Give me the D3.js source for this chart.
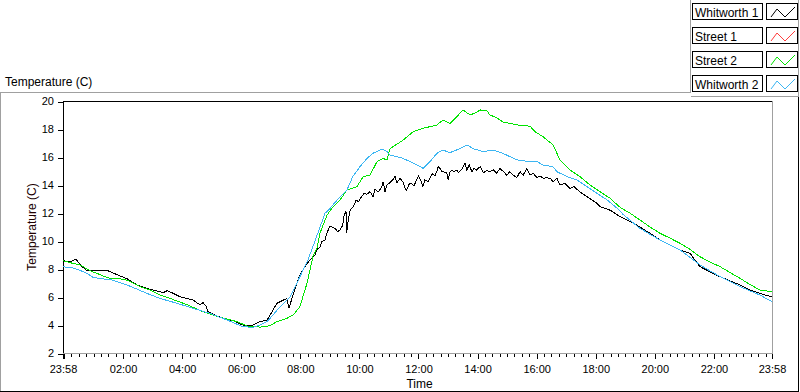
<!DOCTYPE html>
<html>
<head>
<meta charset="utf-8">
<script src="https://cdn.jsdelivr.net/npm/d3@7"></script>
<style>
body { margin: 0; background: #fff; }
svg { display: block; font-family: "Liberation Sans", Arial, sans-serif; }
.tick text { font-size: 11px; fill: #000; }
.tick line { stroke: #000; }
</style>
</head>
<body>
<svg id="chart" width="800" height="392"></svg>
<script>
const seriesNames = ["Whitworth 1", "Street 1", "Street 2", "Whitworth 2"];
const seriesColors = ["#000000", "#ff3c3c", "#00e400", "#3cb6f2"];
const yTicks = [2, 4, 6, 8, 10, 12, 14, 16, 18, 20];
const xTickLabels = ["23:58", "02:00", "04:00", "06:00", "08:00", "10:00", "12:00",
                     "14:00", "16:00", "18:00", "20:00", "22:00", "23:58"];

// hours after 23:58 / temperature (C)
const whitworth1Hours = [0.00, 0.24, 0.44, 0.58, 0.81, 1.08, 1.49, 1.66, 1.86, 2.17, 2.51, 2.95,
  3.39, 3.52, 3.69, 3.96, 4.40, 4.64, 4.74, 4.84, 4.91, 5.21, 5.55, 5.75, 6.09, 6.43, 6.67,
  6.91, 7.11, 7.24, 7.35, 7.58, 7.65, 7.75, 7.92, 8.02, 8.19, 8.36, 8.53,
  8.59, 8.70, 8.76, 8.87, 8.93, 9.02, 9.10, 9.21, 9.29, 9.38, 9.47, 9.52, 9.58, 9.60, 9.64,
  9.72, 9.83, 9.92, 10.00, 10.11, 10.19, 10.28, 10.39, 10.50, 10.56, 10.67, 10.79, 10.84,
  10.90, 10.96, 11.07, 11.16, 11.24, 11.30, 11.41, 11.52, 11.58, 11.63, 11.72, 11.80, 11.88,
  11.97, 12.03, 12.11, 12.18, 12.25, 12.37, 12.42, 12.51, 12.59, 12.65, 12.70, 12.76, 12.82,
  12.87, 12.99, 13.04, 13.10, 13.16, 13.24, 13.33, 13.38, 13.50, 13.61, 13.67, 13.75, 13.84,
  13.91, 14.00, 14.12, 14.23, 14.34, 14.45, 14.57, 14.68, 14.79, 14.91, 15.02, 15.13, 15.24,
  15.36, 15.47, 15.58, 15.70, 15.81, 15.92, 16.04, 16.15, 16.26, 16.37, 16.49,
  16.59, 16.72, 16.82, 16.99, 17.16, 17.30, 17.50, 17.74, 18.08, 18.18, 18.52, 18.86,
  19.20, 19.53, 19.87, 20.21, 20.55, 20.89, 21.23, 21.40, 21.56, 21.90, 22.24, 22.58, 22.92,
  23.25, 23.59, 23.76, 24.00];
const whitworth1Temp = [8.59, 8.50, 8.72, 8.30, 7.88, 7.92, 7.90, 7.75, 7.57, 7.30, 6.86, 6.55,
  6.31, 6.45, 6.30, 6.02, 5.79, 5.43, 5.60, 5.35, 4.95, 4.64, 4.40, 4.31, 4.00, 4.00, 4.24,
  4.36, 5.07, 5.55, 5.67, 5.90, 5.19, 5.90, 6.98, 7.57, 8.17, 8.64, 9.00,
  9.36, 9.59, 9.95, 10.07, 10.55, 11.00, 11.02, 10.90, 10.67, 10.79, 11.14, 11.86, 12.10, 10.55, 11.26,
  12.21, 12.45, 12.93, 12.81, 13.17, 13.40, 13.33, 13.52, 13.17, 13.69, 13.52, 13.83, 14.24,
  13.52, 14.00, 14.17, 14.36, 14.64, 14.17, 14.48, 14.17, 13.76, 13.64, 14.07, 14.12, 13.93,
  14.36, 14.64, 14.36, 13.88, 14.36, 14.24, 14.48, 14.83, 14.64, 14.95, 15.31, 15.19, 14.95,
  14.95, 14.88, 14.36, 14.95, 15.07, 14.95, 15.07, 14.88, 15.12, 15.55, 15.07, 15.43, 14.95,
  15.19, 15.07, 15.31, 14.88, 15.02, 14.95, 15.07, 14.83, 15.19, 14.95, 14.71, 14.95, 14.71,
  14.52, 14.95, 14.71, 15.19, 14.71, 14.83, 14.52, 14.64, 14.48, 14.52, 14.48,
  14.24, 14.48, 14.00, 14.12, 13.76, 13.88, 13.50, 13.17, 12.69, 12.45, 12.20, 11.74,
  11.40, 11.00, 10.55, 10.07, 9.70, 9.36, 9.12, 8.60, 8.17, 7.80, 7.45, 7.15, 6.86,
  6.50, 6.26, 6.15, 6.02];

const street1Hours = [];
const street1Temp = [];

const street2Hours = [0.00, 0.24, 0.58, 0.91, 1.15, 1.35, 1.59, 1.86, 2.17, 2.61, 2.95, 3.28,
  3.62, 4.20, 4.74, 5.31, 5.89, 6.23, 6.67, 7.01, 7.24, 7.58, 7.79, 8.02, 8.12, 8.26, 8.36,
  8.46, 8.60, 8.70, 8.94, 9.14, 9.38, 9.61, 9.95, 10.16, 10.39, 10.63, 10.83, 10.97, 11.07,
  11.51, 11.85, 12.19, 12.66, 12.86, 13.10, 13.34, 13.54, 13.78, 14.01, 14.12, 14.35, 14.45,
  14.69, 14.89, 15.13, 15.37, 15.81, 15.98, 16.25, 16.59, 16.82, 17.16, 17.50, 17.84, 18.18,
  18.52, 18.86, 19.20, 19.53, 19.87, 20.21, 20.55, 20.89, 21.23, 21.56, 21.90, 22.24, 22.58,
  22.92, 23.25, 23.59, 24.00];
const street2Temp = [8.59, 8.45, 8.29, 7.88, 7.69, 7.50, 7.33, 7.33, 7.20, 6.74, 6.50, 6.14,
  5.90, 5.45, 4.95, 4.55, 4.24, 3.93, 3.85, 3.95, 4.24, 4.48, 4.71, 5.31, 6.02, 6.98, 7.93,
  8.90, 9.50, 10.57, 11.86, 12.45, 12.93, 13.64, 13.88, 14.60, 14.70, 15.67, 15.90, 15.79, 16.60,
  17.20, 17.80, 18.05, 18.29, 18.64, 18.40, 18.90, 19.36, 19.00, 19.20, 19.36, 19.30, 19.00,
  18.80, 18.50, 18.40, 18.29, 18.20, 17.80, 17.45, 16.86, 15.79, 15.07, 14.60, 14.00, 13.52,
  13.05, 12.40, 11.98, 11.50, 11.00, 10.55, 10.20, 9.83, 9.40, 8.88, 8.50, 8.17, 7.75,
  7.33, 6.90, 6.50, 6.38];

const whitworth2Hours = [0.00, 0.34, 0.58, 0.81, 1.02, 1.25, 1.69, 2.17, 2.84, 3.28, 3.86, 4.40,
  4.98, 5.55, 6.09, 6.43, 6.67, 6.91, 7.35, 7.69, 8.02, 8.29, 8.53, 8.87, 9.04, 9.28, 9.61,
  9.81, 10.05, 10.29, 10.49, 10.73, 10.83, 10.97, 11.07, 11.31, 11.51, 11.75, 11.98, 12.19,
  12.42, 12.66, 12.86, 13.10, 13.44, 13.68, 13.88, 14.22, 14.56, 14.89, 15.37, 15.81, 16.05,
  16.25, 16.59, 16.72, 17.06, 17.40, 17.74, 18.08, 18.42, 18.76, 18.96, 19.53, 20.21, 20.89,
  21.56, 22.24, 22.92, 23.59, 24.00];
const whitworth2Temp = [8.16, 8.07, 7.90, 7.69, 7.40, 7.33, 7.20, 6.86, 6.26, 5.90, 5.55, 5.19,
  4.83, 4.36, 3.88, 3.83, 4.00, 4.24, 5.31, 6.02, 7.45, 8.64, 10.00, 11.98, 12.33, 12.93, 13.64,
  14.60, 15.30, 15.90, 16.26, 16.50, 16.55, 16.38, 16.14, 16.02, 15.90, 15.67, 15.43, 15.19,
  15.67, 16.26, 16.50, 16.31, 16.60, 16.86, 16.60, 16.38, 16.50, 16.26, 15.79, 15.67, 15.67,
  15.43, 15.30, 14.95, 14.60, 14.36, 13.88, 13.40, 12.93, 12.33, 11.90, 10.90, 10.07, 9.36,
  8.29, 7.45, 6.74, 6.14, 5.67];

const plot = { left: 63, top: 101, right: 772, bottom: 353 };
const start = new Date(2020, 0, 1, 23, 58);
const end = new Date(2020, 0, 2, 23, 58);
const atHours = (h) => new Date(+start + h * 3600e3);

const svg = d3.select('#chart');

const x = d3.scaleTime().domain([start, end]).range([plot.left, plot.right]);
const y = d3.scaleLinear().domain([2, 20]).range([plot.bottom, plot.top]);

// outer panels
const frame = svg.append('g').attr('fill', 'none').attr('shape-rendering', 'crispEdges');
frame.append('path').attr('stroke', '#a0a0a0').attr('d', 'M0.5,392V92.5H690.5V0');
frame.append('path').attr('stroke', '#a0a0a0').attr('d', 'M690.5,96.5H798.5V0');
frame.append('path').attr('stroke', '#000').attr('d', 'M0,391.5H798.5V97');

svg.append('text')
    .attr('x', 5)
    .attr('y', 86)
    .attr('font-size', 12)
    .text('Temperature (C)');

// plot area border
frame.append('path').attr('stroke', '#000').attr('d', `M${plot.left + 0.5},${plot.bottom}V${plot.top + 0.5}H${plot.right}`);
frame.append('path').attr('stroke', '#a0a0a0').attr('d', `M${plot.right + 0.5},${plot.top}V${plot.bottom + 0.5}H${plot.left}`);

const y_axis = d3.axisLeft(y).tickValues(yTicks).tickSize(6).tickPadding(3).tickSizeOuter(0);
const gy = svg.append('g')
    .attr('transform', `translate(${plot.left},0)`)
    .attr('shape-rendering', 'crispEdges')
    .call(y_axis);
gy.select('.domain').remove();
gy.selectAll('.tick line').attr('transform', 'translate(0.5,0.5)');
gy.selectAll('.tick text').attr('font-family', null);

const majorDates = xTickLabels.map((l, i) => {
    if (i === 0) return start;
    const [hh, mm] = l.split(':').map(Number);
    return new Date(2020, 0, 2, hh, mm);
});
const minorDates = d3.timeMinute.every(15).range(start, end);

const x_minor = d3.axisBottom(x).tickValues(minorDates).tickSize(3).tickFormat('').tickSizeOuter(0);
const gxm = svg.append('g')
    .attr('transform', `translate(0,${plot.bottom + 1})`)
    .attr('shape-rendering', 'crispEdges')
    .call(x_minor);
gxm.select('.domain').remove();

const x_axis = d3.axisBottom(x)
    .tickValues(majorDates)
    .tickFormat((d, i) => xTickLabels[i])
    .tickSize(5)
    .tickPadding(6)
    .tickSizeOuter(0);
const gx = svg.append('g')
    .attr('transform', `translate(0,${plot.bottom + 1})`)
    .attr('shape-rendering', 'crispEdges')
    .call(x_axis);
gx.select('.domain').remove();
gx.select('.tick line').attr('stroke-width', 2);

svg.append('text')
    .attr('x', (plot.left + plot.right) / 2 + 2)
    .attr('y', 388)
    .attr('text-anchor', 'middle')
    .attr('font-size', 12)
    .text('Time');

svg.append('text')
    .attr('transform', `translate(36,${(plot.top + plot.bottom) / 2}) rotate(-90)`)
    .attr('text-anchor', 'middle')
    .attr('font-size', 12)
    .attr('fill', '#200000')
    .text('Temperature (C)');

// series
const series = [
    { hours: whitworth1Hours, temp: whitworth1Temp },
    { hours: street1Hours, temp: street1Temp },
    { hours: street2Hours, temp: street2Temp },
    { hours: whitworth2Hours, temp: whitworth2Temp }
];

const line = d3.line()
    .x(d => x(d.t))
    .y(d => y(d.v));

series.forEach((s, k) => {
    const pts = s.hours.map((h, i) => ({ t: atHours(h), v: s.temp[i] }));
    if (!pts.length) return;
    svg.append('path')
        .datum(pts)
        .attr('fill', 'none')
        .attr('stroke', seriesColors[k])
        .attr('stroke-width', 1)
        .attr('shape-rendering', 'crispEdges')
        .attr('d', line);
});

// legend
const legend = svg.append('g').attr('class', 'legend');
seriesNames.forEach((name, i) => {
    const top = 3 + i * 24;
    const row = legend.append('g').attr('transform', `translate(0,${top})`);
    row.append('rect')
        .attr('x', 692.5).attr('y', 0.5)
        .attr('width', 70).attr('height', 16)
        .attr('fill', '#fff').attr('stroke', '#000')
        .attr('shape-rendering', 'crispEdges');
    row.append('text')
        .attr('x', 695).attr('y', 13.5)
        .attr('font-size', 12)
        .text(name);
    row.append('rect')
        .attr('x', 766.5).attr('y', 0.5)
        .attr('width', 31).attr('height', 16)
        .attr('fill', '#fff').attr('stroke', '#000')
        .attr('shape-rendering', 'crispEdges');
    row.append('path')
        .attr('fill', 'none')
        .attr('stroke', seriesColors[i])
        .attr('d', 'M771,14L777,6L785,14L795,4');
});
</script>
</body>
</html>
